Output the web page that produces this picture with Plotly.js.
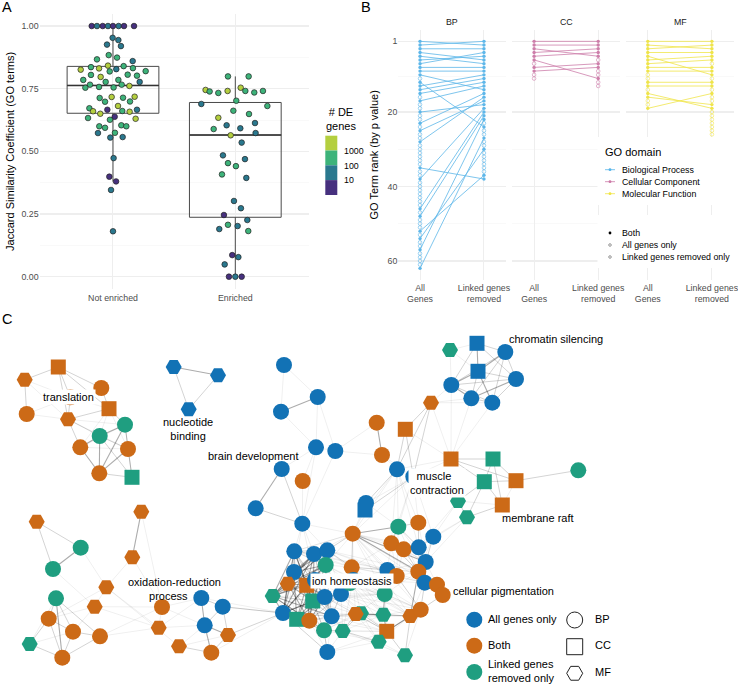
<!DOCTYPE html>
<html><head><meta charset="utf-8">
<script src="https://cdn.plot.ly/plotly-3.0.1.min.js"></script>
<style>html,body{margin:0;padding:0;background:#fff}#p{width:738px;height:684px}</style>
</head><body><div id="p"></div>
<script>
// ---------- Panel A data ----------
const catA = ["Not enriched","Enriched"];
const offNot = [-.174,-.131,-.084,-.041,0,.046,.090,.172,-.003,.044,-.049,.065,-.035,.033,-.131,.161,-.041,-.180,-.114,-.264,.027,.087,.163,-.027,.267,-.180,.196,.120,-.101,-.243,-.060,.044,.218,-.188,.071,.134,-.226,-.114,.005,-.011,-.109,.082,.177,-.065,.139,.041,-.193,-.163,-.046,.076,.136,.196,-.104,-.204,.014,-.025,.185,-.112,-.065,.068,.109,-.123,.016,-.022,.079,.005,-.030,.025,-.016,0];
const jacNot = [1,1,1,1,1,1,1,1,.953,.944,.926,.920,.884,.874,.867,.860,.842,.836,.831,.826,.828,.840,.832,.819,.820,.805,.802,.806,.797,.785,.777,.785,.777,.766,.766,.761,.754,.757,.755,.717,.713,.714,.718,.698,.699,.681,.672,.660,.666,.661,.658,.666,.650,.633,.638,.626,.630,.600,.594,.604,.600,.573,.574,.555,.557,.473,.399,.380,.346,.181];
const binNot = "PTPTPTPPTTTTGGGTYGYYTGGGGGGGYGGGTGGYGGGYGGYGGYGYPGYTYGPGYGGGGTGTTTPPTT".split("");
const offEnr = [-.060,.109,-.243,-.210,-.139,-.063,.044,.082,.155,.226,.008,-.278,.262,-.016,.112,-.139,.161,-.071,.041,-.177,.166,-.038,.052,-.101,-.060,.005,.079,-.109,.090,-.011,.046,-.093,.098,-.060,.019,-.131,.106,-.025,.025,-.087,-.052,0,.052];
const jacEnr = [.799,.799,.745,.739,.733,.741,.754,.741,.735,.741,.702,.689,.681,.662,.649,.634,.613,.604,.592,.589,.573,.564,.535,.484,.453,.441,.469,.408,.394,.302,.273,.246,.226,.207,.202,.190,.182,.086,.078,.049,0,0,0];
const binEnr = "GGYGGYYGGGGTGGGYTTTGTYTTGGTGTTTPTGTTGPTTPTP".split("");
const q1A=[.652,.237], medA=[.763,.565], q3A=[.839,.695], loA=[.380,0], hiA=[1,.799];
const binColor={P:"#46307E",T:"#2A788E",G:"#3DB37A",Y:"#B4CF3F"};
const binLabels=["1000","100","10"];
// ---------- Panel B data ----------
const bpAll=[1,2,3,4,5,6,7,8,9,10,12,13,14,15,17,20,23,25,28,35,38,46,48,52,54,57,62];
const bpLink=[2,1,3,6,7,5,4,8,9,14,24,10,11,12,13,18,15,17,16,38,19,20,21,37,30,22,27];
const bpAllOnly=[11,16,18,19,21,22,24,26,27,29,30,31,32,33,34,36,37,39,40,41,42,43,44,45,47,49,50,51,53,55,56,58,59,60,61];
const bpLinkOnly=[23,25,26,28,29,31,32,33,34,35,36];
const ccAll=[1,2,3,4,5,6,8,9];
const ccLink=[1,2,5,3,4,11,7,8];
const ccAllOnly=[7,10,11];
const ccLinkOnly=[6,9,10,12,13];
const mfAll=[1,2,3,4,5,6,7,8,9,12,13,15,16,19];
const mfLink=[1,3,2,4,10,5,6,8,9,12,13,19,18,15];
const mfAllOnly=[10,11,14,17,18];
const mfLinkOnly=[7,11,14,16,17,20,21,22,23,24,25,26];
const stages=["All<br>Genes","Linked genes<br>removed"];
const rankTicks=[1,20,40,60];
// ---------- Panel C data (node positions from the drawn layout) ----------
const nodeX=[58.3,24.7,101.3,70.3,109,26.7,68,125,99.7,80.3,128,99.3,132,173.7,218,188.7,284,317.7,281,316,335.3,281.7,302.7,255.7,302.3,36.7,141.3,80.7,132.3,53,106.3,56,94.7,162,201.3,222.7,48.7,204.7,158.7,73,100,228,29.7,179,211.3,62.3,352.7,398.3,418.3,433.3,391.3,403.7,418.7,425.7,418.3,387.3,396.7,424.7,437,442.7,294.3,314,327.3,325.7,351.7,294,287.7,306.7,315,353.3,384.7,272.7,312.7,324.7,341,283,296.7,309.3,331.7,361,355.7,383.3,410.3,420.7,386.7,324,342.7,378.7,327.3,405,350,450,477,505.3,478,516,451.3,471.3,492.3,431,376.7,405.3,382,451,493,578.3,397,413.3,516,484.3,458,502.3,467,366,365];
const nodeY=[367,379.7,388,397.3,408.7,414,419.3,424.7,436,447.3,449,473.3,477.3,367,375.3,409.3,365,397,411.7,447.3,451,469,481,508.3,523.7,521.7,511.7,547.7,557.3,569,587.3,598.3,606.7,607,598,606.7,618.7,625.3,627.7,631.7,636.3,635,644,646.3,652.7,657.7,533.7,526.7,522.7,536.7,543.3,549.3,547.3,562,571.7,570,576,582.7,584.7,595,551.3,554,550.3,565,567.3,572,583.7,585.3,580,580,594,596,601,597,594,613,619.3,620.7,616.3,613.3,614,614.7,616,609.7,631.3,630.3,631,641.7,652,655.3,583,350,343.3,352,371.3,379,385,398.3,402.7,402.7,422.7,429.3,455,459,459,470.3,469.3,476.7,480.7,481.7,501,505,517.3,503,510];
const nodeKind=["s","h","c","c","s","c","h","c","c","c","c","c","s", "h","h","h", "c","c","c","c","c","c","c","c","c", "h","h","c","h","c","h","c","h","c","c","c","c","c","h","c","c","h","h","h","c","c", "c","c","c","c","c","c","c","c","c","c","c","c","c","c","c","c","c","c","c","c","h","s","c","c","c","h","s","c","c","c","s","c","c","h","h","h","h","c","s","c","h","h","c","h","c", "h","s","c","s","c","c","c","c","h","c","s","c","s","s","c","c","c","s","s","h","s","h","c","s"];
const nodeFill=["O","O","O","O","O","O","O","G","G","O","O","O","G", "B","B","B", "B","B","B","B","B","B","O","B","B", "O","O","G","O","G","O","G","O","O","B","B","O","B","O","O","O","O","G","O","O","O", "O","G","O","B","O","O","B","B","O","B","O","B","O","O","B","B","B","G","O","B","O","O","B","B","G","G","G","B","B","B","G","O","B","G","O","G","O","O","O","G","G","G","B","G","G", "G","B","B","B","B","B","B","B","O","O","O","O","O","G","G","B","B","O","G","G","O","G","B","B"];
const edgesStrong=[[7,8],[8,9],[8,11],[7,11],[9,11],[10,11],[13,14],[17,18],[21,23],[26,28],[27,29],[31,45],[34,37],[37,44],[37,41],[92,94],[94,96],[95,97],[94,98],[96,97],[93,94],[100,102],[60,65],[65,66],[60,67],[61,65],[61,67],[65,67],[66,67],[66,71],[67,71],[63,65],[63,67],[66,72],[67,72],[71,75],[72,75],[67,75],[65,75],[72,73],[68,73],[73,75],[73,74],[46,47],[46,53],[46,54],[50,51],[52,53],[53,57],[57,58],[70,81],[81,84],[82,84],[75,76],[76,77],[80,81],[54,82],[60,71],[65,71],[60,72],[65,72],[61,71],[61,66],[61,72],[62,65],[62,66],[63,66],[63,71],[63,72],[60,75],[61,75],[66,75],[66,77],[67,77],[71,77],[71,78],[72,77],[72,76],[75,77],[67,73],[67,76],[65,76],[68,71],[68,76],[63,75],[73,76],[73,77]];
const edgesMid=[[0,1],[0,2],[0,3],[0,6],[1,5],[3,6],[4,6],[10,12],[11,12],[8,12],[6,8],[2,4],[0,4],[4,7],[6,9],[7,12],[8,10],[7,10],[13,15],[14,15],[23,24],[21,24],[25,27],[25,29],[31,36],[31,39],[31,40],[36,45],[39,45],[40,45],[36,42],[42,45],[39,40],[36,39],[34,35],[35,37],[35,41],[41,44],[43,44],[92,93],[92,96],[92,95],[93,95],[93,96],[93,97],[93,98],[94,95],[94,97],[95,96],[95,98],[96,98],[97,98],[106,101],[101,99],[106,99],[107,99],[107,101],[113,106],[114,107],[103,104],[103,109],[104,108],[104,109],[104,111],[109,108],[109,111],[109,110],[109,112],[110,112],[111,112],[105,108],[103,108],[60,66],[62,67],[71,72],[68,72],[73,78],[74,78],[72,78],[63,73],[63,74],[64,74],[69,74],[47,48],[47,50],[48,52],[49,52],[50,52],[51,52],[53,54],[54,57],[58,59],[49,53],[47,52],[50,54],[51,54],[55,56],[55,70],[56,70],[81,82],[82,83],[83,84],[82,89],[84,87],[84,89],[79,84],[80,84],[79,86],[80,86],[86,87],[85,86],[85,88],[78,85],[77,85],[75,88],[77,78],[75,78],[60,61],[61,62],[60,68],[65,68],[66,68],[62,63],[46,62],[46,64],[62,64],[56,83],[57,83],[59,83],[75,35],[75,41],[60,62],[60,63],[61,63],[62,72],[62,71],[61,78],[60,78],[65,78],[63,78],[74,72],[74,76],[74,77],[68,78],[68,77],[71,85],[75,85],[66,85],[67,85]];
const edgesFaint=[[1,6],[5,6],[1,3],[3,4],[5,3],[4,8],[6,7],[2,3],[4,9],[4,10],[6,10],[9,10],[9,7],[16,18],[16,17],[17,19],[18,19],[17,20],[19,20],[19,21],[20,100],[20,102],[20,24],[19,24],[22,24],[19,22],[24,46],[24,60],[24,61],[24,62],[24,65],[24,68],[26,33],[27,30],[29,32],[28,30],[28,33],[30,32],[30,36],[32,36],[32,39],[30,38],[30,43],[32,33],[32,38],[40,38],[40,33],[33,34],[33,37],[38,37],[38,34],[33,38],[35,75],[34,75],[44,75],[37,43],[43,41],[42,39],[42,31],[91,92],[91,96],[91,94],[99,96],[99,97],[99,98],[103,96],[103,97],[103,98],[99,103],[101,103],[106,103],[107,103],[46,113],[46,106],[46,107],[114,106],[113,107],[102,107],[102,106],[110,107],[110,49],[110,52],[112,49],[112,52],[112,53],[110,111],[108,111],[61,68],[61,73],[62,68],[62,73],[62,74],[60,73],[64,69],[64,70],[64,81],[64,56],[64,55],[46,69],[46,61],[46,60],[61,64],[60,64],[46,63],[46,70],[90,69],[90,70],[69,79],[69,80],[74,79],[74,80],[70,80],[79,81],[79,87],[78,88],[86,88],[85,87],[78,86],[74,86],[69,86],[69,81],[70,84],[63,69],[63,90],[68,69],[68,74],[72,85],[76,85],[76,73],[77,73],[77,72],[67,78],[66,73],[71,73],[71,76],[66,76],[68,75],[47,53],[47,54],[47,56],[48,53],[49,54],[50,56],[50,53],[51,53],[51,56],[52,54],[52,57],[53,58],[54,58],[54,59],[55,53],[55,54],[55,50],[56,54],[56,57],[70,83],[70,82],[70,54],[70,56],[81,83],[82,57],[83,89],[82,87],[81,87],[84,86],[46,55],[46,56],[46,50],[46,51],[62,55],[64,50],[64,54],[69,55],[69,56],[74,70],[74,81],[90,81],[90,84],[80,87],[80,85],[79,85],[78,80],[78,79],[73,80],[73,79],[72,80],[88,85],[88,77],[89,87],[55,57],[60,46],[106,47],[106,48],[107,47],[107,48],[113,47],[114,46],[106,50],[107,50],[107,49],[106,52],[46,52],[46,57],[46,58],[75,81],[75,82],[75,84],[78,81],[78,84],[78,82],[73,84],[74,84],[74,82],[74,83],[69,82],[69,83],[64,83],[64,57],[46,83],[46,82],[62,82],[62,54],[60,55],[61,55],[62,56],[63,55],[63,70],[72,70],[68,70],[73,70],[74,55],[69,57],[90,82],[90,83],[79,82],[80,82],[86,84],[86,81],[86,89],[88,84],[88,87]];
const clusterLabels=["translation","nucleotide<br>binding","brain development","oxidation-reduction<br>process&nbsp;&nbsp;&nbsp;&nbsp;","muscle&nbsp;&nbsp;<br>contraction","chromatin silencing","membrane raft","ion homeostasis","cellular pigmentation"];
const labelX=[68.7,187.7,253.3,174.3,437,556.3,538.3,352.3,503.3];
const labelY=[397.3,428.7,456,589,483,339,518.3,580.7,591];
const labelBg=[1,0,0,0,1,0,0,1,0];
const fillColor={B:"#1272B5",O:"#CC6A17",G:"#1F9E80"};
const kindSymbol={c:"circle",s:"square",h:"hexagon2"};
// ---------- helpers ----------
const W=738,H=684;
const px=x=>x/W, py=y=>1-y/H;
const ann=(t,x,y,o={})=>Object.assign({text:t,x:px(x),y:py(y),xref:"paper",yref:"paper",showarrow:false,xanchor:"left",yanchor:"middle",font:{family:"Liberation Sans",size:8.8,color:"#000"},borderpad:0},o);
const rect=(x0,y0,x1,y1,c)=>({type:"rect",xref:"paper",yref:"paper",x0:px(x0),x1:px(x1),y0:py(y0),y1:py(y1),fillcolor:c,line:{width:0},layer:"above"});
const dot=(x,y,r,c,open)=>({type:"circle",xref:"paper",yref:"paper",x0:px(x-r),x1:px(x+r),y0:py(y-r),y1:py(y+r),fillcolor:open?"#fff":c,line:{width:open?.6:0,color:c},layer:"above"});
const seg=(x0,y0,x1,y1,c)=>({type:"line",xref:"paper",yref:"paper",x0:px(x0),x1:px(x1),y0:py(y0),y1:py(y1),line:{width:.8,color:c},layer:"above"});
const traces=[];
// A boxes
catA.forEach((c,i)=>{
 traces.push({type:"box",x:[i+1],q1:[q1A[i]],median:[medA[i]],q3:[q3A[i]],lowerfence:[loA[i]],upperfence:[hiA[i]],width:.75,whiskerwidth:0,boxpoints:false,line:{color:"#4a4a4a",width:1},fillcolor:"rgba(0,0,0,0)",xaxis:"x",yaxis:"y",hoverinfo:"skip"});
 traces.push({type:"scatter",mode:"lines",x:[i+1-.375,i+1+.375],y:[medA[i],medA[i]],line:{color:"#333",width:1.6},xaxis:"x",yaxis:"y",hoverinfo:"skip"});
});
traces.push({type:"scatter",mode:"markers",xaxis:"x",yaxis:"y",x:offNot.map(o=>1+o).concat(offEnr.map(o=>2+o)),y:jacNot.concat(jacEnr),
 marker:{size:5.6,opacity:1,color:binNot.concat(binEnr).map(b=>binColor[b]),line:{width:.7,color:"#222"}},hoverinfo:"skip"});
// B slopes
[[bpAll,bpLink,bpAllOnly,bpLinkOnly,"#56B4E9","x2"],[ccAll,ccLink,ccAllOnly,ccLinkOnly,"#CC79A7","x3"],[mfAll,mfLink,mfAllOnly,mfLinkOnly,"#F0E442","x4"]].forEach(([a,l,ao,lo,c,xa])=>{
 const xs=[],ys=[];a.forEach((v,i)=>{xs.push(0,1,null);ys.push(v,l[i],null);});
 traces.push({type:"scatter",mode:"markers",xaxis:xa,yaxis:{x2:"y2",x3:"y3",x4:"y4"}[xa],x:ao.map(()=>0).concat(lo.map(()=>1)),y:ao.concat(lo),marker:{symbol:"circle-open",size:3.6,color:c,opacity:.8,line:{width:.7,color:c}},hoverinfo:"skip"});
 traces.push({type:"scatter",mode:"lines+markers",xaxis:xa,yaxis:{x2:"y2",x3:"y3",x4:"y4"}[xa],x:xs,y:ys,line:{color:c,width:.8},opacity:.95,marker:{size:3.4,color:c},hoverinfo:"skip"});
});
// C edges
const edgeTrace=(E,c,w)=>{const xs=[],ys=[];E.forEach(([a,b])=>{xs.push(nodeX[a],nodeX[b],null);ys.push(nodeY[a],nodeY[b],null);});
 return {type:"scatter",mode:"lines",xaxis:"x5",yaxis:"y5",x:xs,y:ys,line:{color:c,width:w},hoverinfo:"skip"};};
traces.push(edgeTrace(edgesFaint,"rgba(0,0,0,.11)",.6));
traces.push(edgeTrace(edgesMid,"rgba(0,0,0,.22)",.8));
traces.push(edgeTrace(edgesStrong,"rgba(0,0,0,.33)",1.1));
traces.push({type:"scatter",mode:"markers",xaxis:"x5",yaxis:"y5",x:nodeX,y:nodeY,
 marker:{opacity:1,size:nodeKind.map(k=>k=="s"?15:16),symbol:nodeKind.map(k=>kindSymbol[k]),color:nodeFill.map(f=>fillColor[f]),line:{width:0}},hoverinfo:"skip"});
// C legend glyphs
const legFillY=[619.7,645.7,672], legFill=["B","O","G"];
traces.push({type:"scatter",mode:"markers",xaxis:"x5",yaxis:"y5",x:legFillY.map(()=>474.3),y:legFillY,marker:{size:16,opacity:1,color:legFill.map(f=>fillColor[f])},hoverinfo:"skip"});
const legShapeY=[620,646.7,673.3], legShape=["c","s","h"];
traces.push({type:"scatter",mode:"markers",xaxis:"x5",yaxis:"y5",x:legShapeY.map(()=>574.7),y:legShapeY,marker:{size:16,opacity:1,symbol:legShape.map(k=>kindSymbol[k]),color:"#fff",line:{width:1,color:"#222"}},hoverinfo:"skip"});

const grid="#eeeeee", gridMinor="#f5f5f5", tickC="#4d4d4d";
const tf={family:"Liberation Sans",size:8.8,color:tickC};
const xB=(l,r)=>({domain:[px(l),px(r)],range:[-.34,1.34],tickvals:[0,1],ticktext:stages,tickfont:tf,ticks:"",showline:false,zeroline:false,gridcolor:grid,gridwidth:1,ticklabelstandoff:-8,ticklabeloverflow:"allow"});
const layout={width:W,height:H,margin:{l:0,r:0,t:0,b:0},paper_bgcolor:"#fff",plot_bgcolor:"rgba(0,0,0,0)",showlegend:false,
 font:{family:"Liberation Sans"},
 xaxis:{domain:[px(39.6),px(308.7)],range:[.4,2.6],tickvals:[1,2],ticktext:catA,tickfont:tf,ticks:"",zeroline:false,gridcolor:grid,gridwidth:1,ticklabelstandoff:2},
 yaxis:{domain:[py(289.2),py(13.5)],range:[-.05,1.05],tickvals:[0,.25,.5,.75,1],ticktext:["0.00","0.25","0.50","0.75","1.00"],tickfont:tf,ticks:"",zeroline:false,gridcolor:grid,gridwidth:1.3,
  minor:{tickvals:[.125,.375,.625,.875],showgrid:true,gridcolor:gridMinor,gridwidth:.6},
  title:{text:"Jaccard Similarity Coefficient (GO terms)",font:{family:"Liberation Sans",size:11,color:"#000"},standoff:4}},
 xaxis2:xB(398.3,505.7),xaxis3:xB(512.3,620),xaxis4:xB(626,733.7),
 yaxis2:{domain:[py(279.7),py(30)],range:[65.05,-2.05],anchor:"x2",tickvals:rankTicks,tickfont:tf,ticks:"",zeroline:false,gridcolor:grid,gridwidth:1.3,
  minor:{tickvals:[10.5,30,50],showgrid:true,gridcolor:gridMinor,gridwidth:.6},
  title:{text:"GO Term rank (by p value)",font:{family:"Liberation Sans",size:11,color:"#000"},standoff:6}},
 yaxis3:{domain:[py(279.7),py(30)],range:[65.05,-2.05],anchor:"x3",tickvals:rankTicks,showticklabels:false,ticks:"",zeroline:false,gridcolor:grid,gridwidth:1.3,minor:{tickvals:[10.5,30,50],showgrid:true,gridcolor:gridMinor,gridwidth:.6}},
 yaxis4:{domain:[py(279.7),py(30)],range:[65.05,-2.05],anchor:"x4",tickvals:rankTicks,showticklabels:false,ticks:"",zeroline:false,gridcolor:grid,gridwidth:1.3,minor:{tickvals:[10.5,30,50],showgrid:true,gridcolor:gridMinor,gridwidth:.6}},
 xaxis5:{domain:[0,1],range:[0,W],visible:false,anchor:"y5"},
 yaxis5:{domain:[0,1],range:[H,0],visible:false,anchor:"x5"},
 shapes:[
  rect(597.5,137,738,205,"#fff"),rect(597.5,215,738,268,"#fff"),
  rect(325.3,135.7,337.3,150.5,binColor.Y),rect(325.3,150.5,337.3,165.3,binColor.G),rect(325.3,165.3,337.3,180.1,binColor.T),rect(325.3,180.1,337.3,195,binColor.P),
  seg(605,169.7,615,169.7,"#56B4E9"),dot(610,169.7,1.4,"#56B4E9"),
  seg(605,181.7,615,181.7,"#CC79A7"),dot(610,181.7,1.4,"#CC79A7"),
  seg(605,193.7,615,193.7,"#F0E442"),dot(610,193.7,1.4,"#F0E442"),
  dot(610,233,1.4,"#000"),dot(610,245,1.3,"#555",true),dot(610,257,1.3,"#555",true)
 ],
 annotations:[
  ann("A",1,6.7,{font:{family:"Liberation Sans",size:14.5,color:"#000"}}),
  ann("B",359.5,6.7,{font:{family:"Liberation Sans",size:14.5,color:"#000"}}),
  ann("C",1,319,{font:{family:"Liberation Sans",size:14.5,color:"#000"}}),
  ann("# DE<br>genes",325.3,119,{font:{family:"Liberation Sans",size:11,color:"#000"}}),
  ...binLabels.map((t,i)=>ann(t,343.3,150.7+i*14.8)),
  ann("BP",452.3,22,{xanchor:"center",font:{family:"Liberation Sans",size:8.8,color:"#1a1a1a"}}),
  ann("CC",566,22,{xanchor:"center",font:{family:"Liberation Sans",size:8.8,color:"#1a1a1a"}}),
  ann("MF",680,22,{xanchor:"center",font:{family:"Liberation Sans",size:8.8,color:"#1a1a1a"}}),
  ann("GO domain",604,152.3,{font:{family:"Liberation Sans",size:11,color:"#000"}}),
  ann("Biological Process",621.3,169.7),ann("Cellular Component",621.3,181.7),ann("Molecular Function",621.3,193.7),
  ann("Both",621.3,233),ann("All genes only",621.3,245),ann("Linked genes removed only",621.3,257),
  ...clusterLabels.map((t,i)=>ann(t,labelX[i],labelY[i],{xanchor:"center",borderpad:1,font:{family:"Liberation Sans",size:11,color:"#000"},bgcolor:labelBg[i]?"#fff":"rgba(0,0,0,0)"})),
  ann("All genes only",487,618.7,{font:{family:"Liberation Sans",size:11,color:"#000"}}),
  ann("Both",487,645,{font:{family:"Liberation Sans",size:11,color:"#000"}}),
  ann("Linked genes<br>removed only",487,671.3,{align:"left",font:{family:"Liberation Sans",size:11,color:"#000"}}),
  ann("BP",593.7,618.7,{font:{family:"Liberation Sans",size:11,color:"#000"}}),
  ann("CC",593.7,645,{font:{family:"Liberation Sans",size:11,color:"#000"}}),
  ann("MF",593.7,672,{font:{family:"Liberation Sans",size:11,color:"#000"}})
 ]};
Plotly.newPlot("p",traces,layout,{staticPlot:true,displayModeBar:false});
</script></body></html>
